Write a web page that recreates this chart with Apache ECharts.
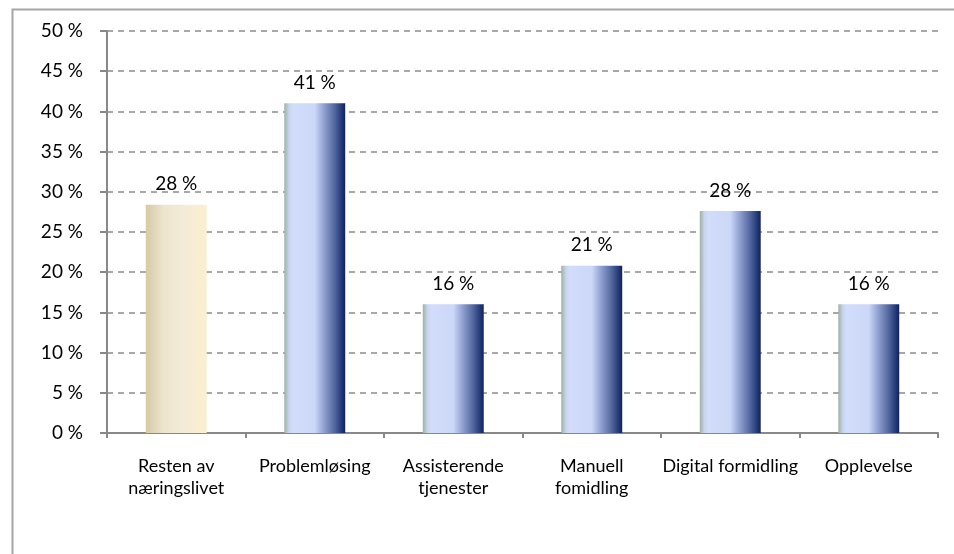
<!DOCTYPE html>
<html>
<head>
<meta charset="utf-8">
<script src="https://cdn.jsdelivr.net/npm/echarts@6/dist/echarts.min.js"></script>
<style>
  html, body { margin: 0; padding: 0; background: #ffffff; }
  #chart { width: 954px; height: 554px; }
</style>
</head>
<body>
<div id="chart"></div>
<script>
// Andel per næringsgruppe (prosent)
const categories = [
  'Resten av\nnæringslivet',
  'Problemløsing',
  'Assisterende\ntjenester',
  'Manuell\nfomidling',
  'Digital formidling',
  'Opplevelse'
];
const shares = [28.4, 41.0, 16.0, 20.8, 27.6, 16.0];
const yTicks = { min: 0, max: 50, step: 5 };

const FONT = 'Lato, "Noto Sans", sans-serif';

// Horizontal gradients that give the bars a rounded, cylinder-like shading
const beigeFill = new echarts.graphic.LinearGradient(0, 0, 1, 0, [
  { offset: 0, color: '#d6c9a5' },
  { offset: 0.3, color: '#ece5cf' },
  { offset: 0.6, color: '#f3ebd7' },
  { offset: 1, color: '#fdeecf' }
]);
const blueFill = () => new echarts.graphic.LinearGradient(0, 0, 1, 0, [
  { offset: 0, color: '#9fb1a0' },
  { offset: 0.08, color: '#c9d6ef' },
  { offset: 0.14, color: '#d2dcfb' },
  { offset: 0.5, color: '#ccd8f7' },
  { offset: 0.64, color: '#95a5d4' },
  { offset: 0.82, color: '#55699f' },
  { offset: 1, color: '#0b2266' }
]);

const barData = shares.map((v, i) => ({
  value: v,
  itemStyle: { color: i === 0 ? beigeFill : blueFill() }
}));

const chart = echarts.init(document.getElementById('chart'), null, { renderer: 'canvas' });
chart.setOption({
  animation: false,
  backgroundColor: '#ffffff',
  textStyle: { fontFamily: FONT },
  graphic: [{
    type: 'rect',
    left: 10, top: 7,
    shape: { width: 1000, height: 600 },
    style: { fill: 'none', stroke: '#a6a6a6', lineWidth: 2 },
    silent: true
  }],
  grid: { left: 107, right: 16, top: 31, bottom: 121, containLabel: false },
  xAxis: {
    type: 'category',
    data: categories,
    boundaryGap: true,
    axisLine: { lineStyle: { color: '#888888', width: 2 } },
    axisTick: { show: true, length: 5, lineStyle: { color: '#888888', width: 2 } },
    axisLabel: {
      interval: 0,
      margin: 22,
      color: '#000000',
      fontFamily: FONT,
      fontSize: 18,
      lineHeight: 22,
      align: 'center'
    }
  },
  yAxis: {
    type: 'value',
    min: yTicks.min,
    max: yTicks.max,
    interval: yTicks.step,
    axisLine: { show: true, lineStyle: { color: '#888888', width: 2 } },
    axisTick: { show: true, length: 7, lineStyle: { color: '#888888', width: 2 } },
    axisLabel: {
      margin: 24,
      color: '#000000',
      fontFamily: FONT,
      fontSize: 19,
      formatter: v => v + ' %'
    },
    splitLine: {
      show: true,
      lineStyle: { color: '#8c8c8c', width: 1.5, type: [6, 5] }
    }
  },
  series: [{
    type: 'bar',
    data: barData,
    barWidth: '44%',
    label: {
      show: true,
      position: 'top',
      distance: 11,
      color: '#000000',
      fontFamily: FONT,
      fontSize: 19,
      formatter: p => Math.round(p.value) + ' %'
    }
  }]
});
</script>
</body>
</html>
